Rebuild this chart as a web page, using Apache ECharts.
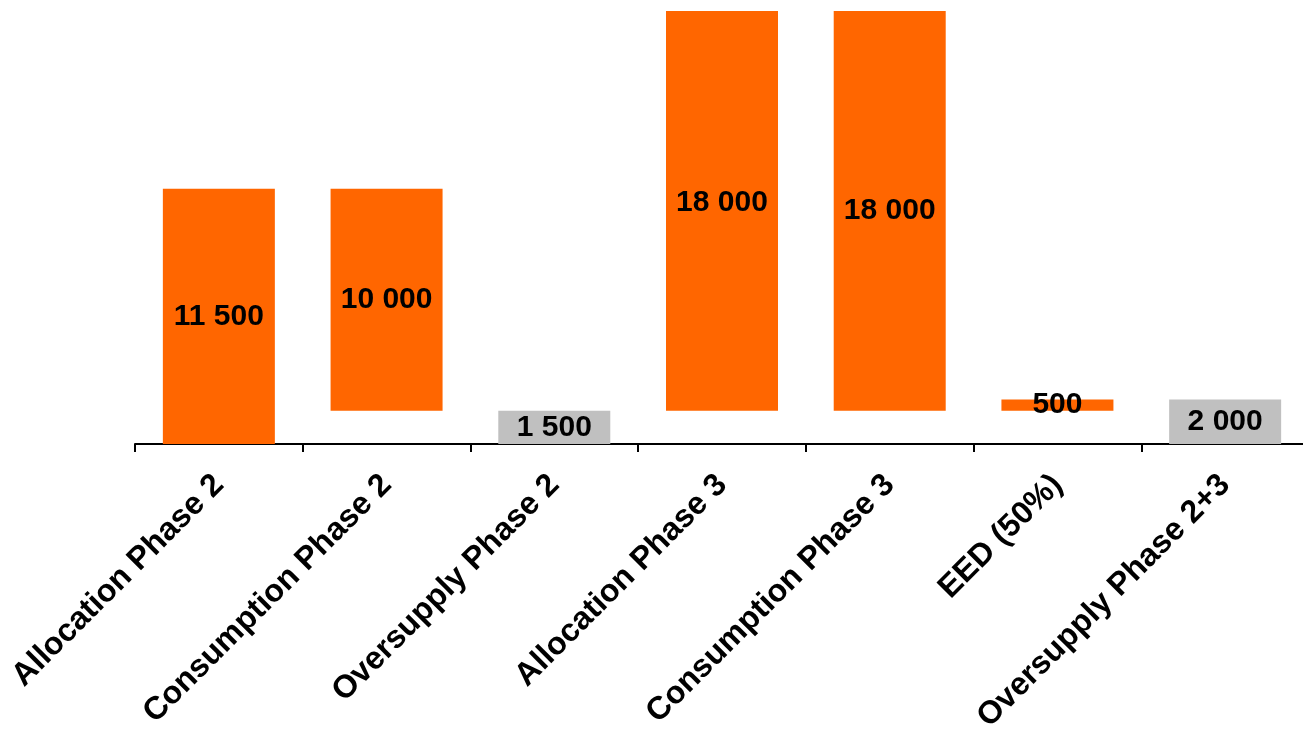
<!DOCTYPE html>
<html>
<head>
<meta charset="utf-8">
<script src="https://cdn.jsdelivr.net/npm/echarts@6/dist/echarts.min.js"></script>
<style>
html,body{margin:0;padding:0;background:#fff;}
#chart{width:1303px;height:734px;}
</style>
</head>
<body>
<div id="chart"></div>
<script>
const categories = ['Allocation Phase 2', 'Consumption Phase 2', 'Oversupply Phase 2', 'Allocation Phase 3', 'Consumption Phase 3', 'EED (50%)', 'Oversupply Phase 2+3'];
const baseValues = [0, 1500, 0, 1500, 1500, 1500, 0];
const barValues = [11500, 10000, 1500, 18000, 18000, 500, 2000];

const ORANGE = '#FF6600';
const GRAY = '#C0C0C0';
const fmt = v => String(v).replace(/\B(?=(\d{3})+(?!\d))/g, ' ');

const chart = echarts.init(document.getElementById('chart'));
chart.setOption({
  animation: false,
  grid: { left: 135, width: 1174, top: 11, height: 433, containLabel: false, outerBoundsMode: 'none' },
  xAxis: {
    type: 'category',
    data: categories,
    axisLine: { show: true, lineStyle: { color: '#000', width: 2 } },
    axisTick: { show: true, length: 8, lineStyle: { color: '#000', width: 2 } },
    axisLabel: {
      rotate: 45,
      interval: 0,
      margin: 36,
      color: '#000',
      fontFamily: 'Liberation Sans, Arial, sans-serif',
      fontWeight: 'bold',
      fontSize: 32
    }
  },
  yAxis: { type: 'value', min: 0, max: 19500, show: false },
  series: [
    {
      type: 'bar', stack: 'w', barWidth: 112,
      itemStyle: { color: 'transparent' },
      data: baseValues,
      silent: true
    },
    {
      type: 'bar', stack: 'w', barWidth: 112,
      data: barValues.map((v, i) => ({
        value: v,
        itemStyle: { color: categories[i].startsWith('Oversupply') ? GRAY : ORANGE },
        label: i === 3 ? { offset: [0, -8] } : undefined
      })),
      label: {
        show: true,
        position: 'inside',
        color: '#000',
        fontFamily: 'Liberation Sans, Arial, sans-serif',
        fontWeight: 'bold',
        fontSize: 30,
        formatter: p => fmt(p.value)
      }
    }
  ]
});
</script>
</body>
</html>
